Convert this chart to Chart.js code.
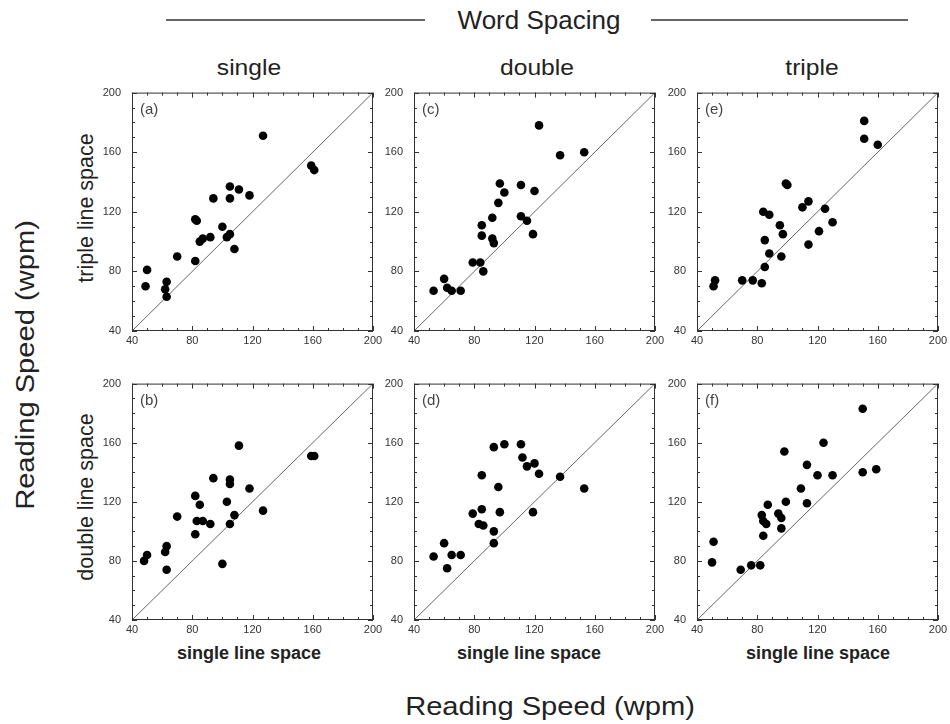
<!DOCTYPE html>
<html>
<head>
<meta charset="utf-8">
<script src="https://cdn.jsdelivr.net/npm/chart.js@4.4.0/dist/chart.umd.min.js"></script>
<style>
body { margin: 0; background: #fff; }
#page { position: relative; width: 950px; height: 724px; overflow: hidden; background: #fff;
        font-family: "Liberation Sans", Arial, sans-serif; color: #222; }
.txt { position: absolute; white-space: nowrap; transform: translate(-50%, -50%); line-height: 1; }
.rot { transform: translate(-50%, -50%) rotate(-90deg); }
.wide { transform: translate(-50%, -50%) scaleX(1.12); }
.rotwide { transform: translate(-50%, -50%) rotate(-90deg) scaleX(1.12); }
.rule { position: absolute; height: 2px; background: #666; }
.panel { position: absolute; }
</style>
</head>
<body>
<div id="page">
  <div class="rule" style="left:166px; top:19px; width:259px"></div>
  <div class="txt" style="left:539px; top:20px; font-size:26px">Word Spacing</div>
  <div class="rule" style="left:651px; top:19px; width:257px"></div>

  <div class="txt wide" style="left:249px; top:68px; font-size:22px">single</div>
  <div class="txt wide" style="left:537px; top:68px; font-size:22px">double</div>
  <div class="txt wide" style="left:812px; top:68px; font-size:22px">triple</div>

  <div class="txt rotwide" style="left:25px; top:365px; font-size:26px">Reading Speed (wpm)</div>
  <div class="txt rot" style="left:87px; top:208px; font-size:21.5px">triple line space</div>
  <div class="txt rot" style="left:87px; top:497px; font-size:21.5px">double line space</div>

  <div class="txt" style="left:249px; top:653px; font-size:18px; font-weight:bold">single line space</div>
  <div class="txt" style="left:529px; top:653px; font-size:18px; font-weight:bold">single line space</div>
  <div class="txt" style="left:818px; top:653px; font-size:18px; font-weight:bold">single line space</div>

  <div class="txt wide" style="left:550px; top:706px; font-size:26px">Reading Speed (wpm)</div>
</div>

<script>
// reading speed (wpm), single line space on x, triple / double line space on y
// (a) single word spacing, triple line space
const aX = [49, 50, 63, 62, 63, 70, 82, 82, 83, 85, 87, 92, 94, 100, 103, 105, 105, 105, 108, 111, 118, 127, 159, 161];
const aY = [70, 81, 73, 68, 63, 90, 87, 115, 114, 100, 102, 103, 129, 110, 103, 105, 137, 129, 95, 135, 131, 171, 151, 148];
// (b) single word spacing, double line space
const bX = [48, 50, 62, 63, 63, 70, 82, 82, 83, 85, 87, 92, 94, 100, 103, 105, 105, 105, 108, 111, 118, 127, 159, 161];
const bY = [80, 84, 86, 90, 74, 110, 124, 98, 107, 118, 107, 105, 136, 78, 120, 135, 132, 105, 111, 158, 129, 114, 151, 151];
// (c) double word spacing, triple line space
const cX = [53, 60, 62, 65, 71, 79, 84, 86, 85, 85, 92, 92, 93, 96, 97, 100, 111, 111, 115, 119, 120, 123, 137, 153];
const cY = [67, 75, 69, 67, 67, 86, 86, 80, 111, 104, 116, 102, 99, 126, 139, 133, 138, 117, 114, 105, 134, 178, 158, 160];
// (d) double word spacing, double line space
const dX = [53, 60, 62, 65, 71, 79, 83, 86, 85, 85, 93, 93, 93, 96, 97, 100, 111, 112, 115, 119, 120, 123, 137, 153];
const dY = [83, 92, 75, 84, 84, 112, 105, 104, 115, 138, 92, 100, 157, 130, 113, 159, 159, 150, 144, 113, 146, 139, 137, 129];
// (e) triple word spacing, triple line space
const eX = [51, 52, 70, 77, 83, 85, 85, 84, 88, 88, 95, 97, 96, 99, 100, 110, 114, 114, 121, 125, 130, 151, 151, 160];
const eY = [70, 74, 74, 74, 72, 83, 101, 120, 118, 92, 111, 105, 90, 139, 138, 123, 127, 98, 107, 122, 113, 181, 169, 165];
// (f) triple word spacing, double line space
const fX = [50, 51, 69, 76, 82, 84, 83, 84, 86, 87, 94, 96, 96, 98, 99, 109, 113, 113, 120, 124, 130, 150, 150, 159];
const fY = [79, 93, 74, 77, 77, 97, 111, 107, 105, 118, 112, 109, 102, 154, 120, 129, 145, 119, 138, 160, 138, 183, 140, 142];

// axis range, tick labels and the equal-speed diagonal
const axisRange = [40, 200];
const tickValues = [40, 80, 120, 160, 200];
const diagonal = [40, 200];

// layout of the six plot areas (page pixels)
const colLeft = [132, 414, 697];
const rowTop = [85, 376];
const rowHeight = [246, 244];
const plotWidth = 241;
const yAxisW = 44, xAxisH = 18, padTop = 10, padRight = 16;

const panels = [
    { letter: '(a)', xs: aX, ys: aY, col: 0, row: 0 },
    { letter: '(c)', xs: cX, ys: cY, col: 1, row: 0 },
    { letter: '(e)', xs: eX, ys: eY, col: 2, row: 0 },
    { letter: '(b)', xs: bX, ys: bY, col: 0, row: 1 },
    { letter: '(d)', xs: dX, ys: dY, col: 1, row: 1 },
    { letter: '(f)', xs: fX, ys: fY, col: 2, row: 1 }
];

const fontFamily = '"Liberation Sans", Arial, sans-serif';

// box frame with inward major/minor ticks on all four sides, plus panel letter
const framePlugin = {
    id: 'frame',
    afterDraw(chart, args, opts) {
        const { ctx, chartArea: a, scales } = chart;
        ctx.save();
        ctx.strokeStyle = '#333';
        ctx.lineWidth = 1;
        ctx.strokeRect(a.left + 0.5, a.top + 0.5, a.width - 1, a.height - 1);
        ctx.beginPath();
        for (let v = axisRange[0]; v <= axisRange[1]; v += 10) {
            const len = v % 40 === 0 ? 5 : 3;
            const px = Math.round(scales.x.getPixelForValue(v)) + 0.5;
            ctx.moveTo(px, a.bottom); ctx.lineTo(px, a.bottom - len);
            ctx.moveTo(px, a.top); ctx.lineTo(px, a.top + len);
            const py = Math.round(scales.y.getPixelForValue(v)) + 0.5;
            ctx.moveTo(a.left, py); ctx.lineTo(a.left + len, py);
            ctx.moveTo(a.right, py); ctx.lineTo(a.right - len, py);
        }
        ctx.stroke();
        ctx.fillStyle = '#444';
        ctx.font = '15px ' + fontFamily;
        ctx.textBaseline = 'top';
        ctx.fillText(opts.letter, a.left + 8, a.top + 10);
        ctx.restore();
    }
};

function createPanel(p) {
    const page = document.getElementById('page');
    const box = document.createElement('div');
    box.className = 'panel';
    const w = yAxisW + plotWidth + padRight;
    const h = padTop + rowHeight[p.row] + xAxisH;
    box.style.left = (colLeft[p.col] - yAxisW) + 'px';
    box.style.top = (rowTop[p.row] - padTop) + 'px';
    const canvas = document.createElement('canvas');
    canvas.width = w;
    canvas.height = h;
    box.appendChild(canvas);
    page.appendChild(box);

    const tickStyle = { color: '#333', font: { family: fontFamily, size: 11 } };

    new Chart(canvas, {
        type: 'scatter',
        data: {
            datasets: [
                {
                    data: p.xs.map((x, i) => ({ x: x, y: p.ys[i] })),
                    backgroundColor: '#000',
                    borderWidth: 0,
                    pointRadius: 4.3,
                    pointHoverRadius: 4.3
                },
                {
                    type: 'line',
                    data: diagonal.map(v => ({ x: v, y: v })),
                    borderColor: '#666',
                    borderWidth: 1,
                    pointRadius: 0,
                    fill: false
                }
            ]
        },
        options: {
            responsive: false,
            animation: false,
            events: [],
            layout: { padding: { top: padTop, right: padRight, left: 0, bottom: 0 } },
            plugins: {
                legend: { display: false },
                tooltip: { enabled: false },
                frame: { letter: p.letter }
            },
            scales: {
                x: {
                    type: 'linear',
                    min: axisRange[0],
                    max: axisRange[1],
                    grid: { display: false, drawTicks: false },
                    border: { display: false },
                    afterBuildTicks: s => { s.ticks = tickValues.map(v => ({ value: v })); },
                    afterFit: s => { s.height = xAxisH; },
                    ticks: Object.assign({ padding: 3, maxRotation: 0 }, tickStyle)
                },
                y: {
                    type: 'linear',
                    min: axisRange[0],
                    max: axisRange[1],
                    grid: { display: false, drawTicks: false },
                    border: { display: false },
                    afterBuildTicks: s => { s.ticks = tickValues.map(v => ({ value: v })); },
                    afterFit: s => { s.width = yAxisW; },
                    ticks: Object.assign({ padding: 11 }, tickStyle)
                }
            }
        },
        plugins: [framePlugin]
    });
}

panels.forEach(createPanel);
</script>
</body>
</html>
